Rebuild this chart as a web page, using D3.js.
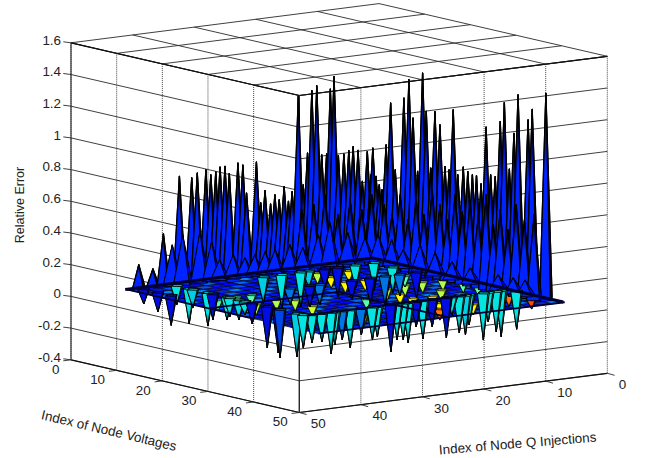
<!DOCTYPE html>
<html>

<head>
    <meta charset="utf-8"/>
    <title>Relative Error surface</title>
    <script src="https://d3js.org/d3.v7.min.js"></script>
    <style>
        body { margin: 0; background: #fff; }
        text { font-family: "Liberation Sans", Arial, sans-serif; fill: #222; }
    </style>
</head>

<body>
    <div id="chart"></div>

    <script>
        // Tick labels
        var vTicks = [0, 10, 20, 30, 40, 50];
        var qTicks = [0, 10, 20, 30, 40, 50];
        var zTicks = [-0.4, -0.2, 0, 0.2, 0.4, 0.6, 0.8, 1, 1.2, 1.4, 1.6];

        // Tall peaks along the edge V = 0
        var leftTallQ = [39, 36.7, 35, 32.4, 30.4, 29.5, 28.1, 27.3, 26.5, 25.8, 25, 24.3, 22.9, 22.1, 21.5, 19.9, 19.2, 18.5, 17.6, 16.9, 16.2, 15.4, 14.7, 14.1, 13.1, 12.3, 11.6, 10.9, 10.1, 9.3, 8.5, 7.9, 7.3, 6.6, 5.7, 4.9, 4.2, 3.4, 2.7, 1.9, 1.3];
        var leftTallZ = [0.145, 0.107, 0.32, 0.67, 0.65, 0.676, 0.69, 0.655, 0.668, 0.696, 0.696, 0.647, 0.707, 0.69, 0.51, 0.698, 0.437, 0.512, 0.422, 0.477, 0.442, 0.522, 0.424, 0.484, 1.079, 0.517, 0.714, 1.104, 1.131, 0.692, 0.693, 1.1, 1.176, 0.673, 0.679, 0.697, 0.719, 0.69, 0.491, 0.676, 0.526];

        // Tall peaks along the edge Q = 1
        var rightTallV = [0, 0.7, 1.4, 2, 2.9, 3.9, 4.9, 6.8, 7.9, 8.8, 9.8, 10.9, 11.7, 12.7, 13.6, 14.7, 15.8, 16.7, 17.6, 18.6, 19.8, 20.8, 21.8, 22.7, 23.7, 24.8, 25.8, 26.8, 27.9, 28.8, 29.9, 30.9, 31.8, 34, 34.9, 37.9];
        var rightTallZ = [0.693, 0.519, 0.471, 0.443, 0.733, 1.003, 0.589, 1.054, 1.177, 0.941, 0.611, 1.238, 1.002, 0.651, 1.014, 0.938, 0.682, 0.667, 1.052, 0.648, 0.705, 0.683, 0.669, 0.669, 0.625, 0.99, 0.696, 0.691, 1.046, 1.172, 0.759, 0.992, 1.24, 1.097, 1.17, 1.291];

        // Middle height peaks one row in
        var leftMidQ = [14.7, 12.8, 11, 8.9, 6.9, 5, 3.4];
        var leftMidZ = [0.392, 0.414, 0.468, 0.331, 0.416, 0.344, 0.43];
        var rightMidV = [5.2, 6.9, 8.7, 10.4, 12.2, 13.9, 15.7, 17.4, 19, 20.7, 22.3, 24, 25.8, 27.5, 29.1, 30.6, 32.3, 34.1, 35.9, 38];
        var rightMidZ = [0.38, 0.328, 0.466, 0.32, 0.458, 0.375, 0.544, 0.461, 0.377, 0.546, 0.449, 0.536, 0.453, 0.591, 0.412, 0.517, 0.402, 0.572, 0.488, 0.534];

        // Short peaks right behind the dark ridge
        var leftLowQ = [34.3, 32.6, 29.8, 27.9, 26.6, 24.4, 22.5, 20.9, 19.2, 17.6, 15.2, 13.1, 10.6, 8.7, 5.8, 3];
        var leftLowZ = [0.254, 0.309, 0.314, 0.242, 0.122, 0.143, 0.114, 0.125, 0.136, 0.141, 0.16, 0.131, 0.2, 0.267, 0.189, 0.144];
        var rightLowV = [2.5, 5.5, 8, 11.7, 15, 18.7, 22.7, 28.8, 32.1, 34.7];
        var rightLowZ = [0.168, 0.156, 0.11, 0.166, 0.138, 0.105, 0.093, 0.09, 0.093, 0.097];

        // Downward spikes, with their colour value
        var dropV = [1.1, 4.2, 7.1, 1.6, 4.3, 5.1, 8.4, 9.5, 12.6, 13.2, 15.2, 16.5, 18.1, 21.4, 23.8, 24.2, 27.9, 29.3,
                     30, 30, 30, 30, 30, 30, 30, 30, 30, 30, 30, 30, 30, 30, 30, 30, 30, 30, 30, 30, 30, 30, 30, 30, 30, 31.5,
                     3, 3, 3, 3, 3, 3, 3, 7.1, 3,
                     12, 12, 12, 12, 12, 12, 12, 12];
        var dropQ = [39, 39, 39, 34, 34, 34, 34, 34, 34, 34, 34, 34, 34, 34, 34, 34, 34, 34,
                     33.1, 31.5, 30, 29.4, 28.2, 26.9, 25.1, 23.3, 22.5, 20.3, 19.3, 18.3, 17.5, 16.2, 15.1, 13.6, 11.3, 10.4, 9.2, 8.2, 7.6, 5.3, 4.5, 3.2, 2.4, 1,
                     18, 14.9, 13.6, 11, 8.9, 6, 3, 3, 21,
                     13.3, 10.3, 7.9, 18.5, 23.3, 20.1, 2.8, 5.5];
        var dropZ = [-0.095, -0.124, -0.19, -0.12, -0.224, -0.117, -0.21, -0.164, -0.144, -0.12, -0.126, -0.086, -0.132, -0.262, -0.278, -0.306, -0.276, -0.21,
                     -0.177, -0.179, -0.262, -0.208, -0.183, -0.24, -0.167, -0.207, -0.192, -0.298, -0.227, -0.232, -0.255, -0.16, -0.242, -0.173, -0.254, -0.114, -0.233, -0.25, -0.19, -0.297, -0.187, -0.256, -0.29, -0.24,
                     -0.21, -0.22, -0.107, -0.12, -0.186, -0.144, -0.172, -0.163, -0.17,
                     -0.124, -0.157, -0.182, -0.129, -0.105, -0.134, -0.163, -0.137];
        var dropC = [0.14, 0.14, 0.14, 0.38, 0.38, 0.35, 0.38, 0.14, 0.38, 0.38, 0.36, 0.38, 0.14, 0.14, 0.14, 0.2, 0.35, 0.38,
                     0.38, 0.38, 0.38, 0.38, 0.25, 0.38, 0.25, 0.38, 0.38, 0.14, 0.38, 0.38, 0.38, 0.14, 0.38, 0.14, 0.14, 0.38, 0.38, 0.35, 0.38, 0.38, 0.38, 0.38, 0.38, 0.38,
                     0.38, 0.38, 0.35, 0.14, 0.14, 0.38, 0.38, 0.38, 0.35,
                     0.14, 0.14, 0.25, 0.25, 0.25, 0.14, 0.14, 0.25];

        // Small coloured pits in the flat part
        var pitV = [2.4, 4.8, 8.3, 6, 12.5, 12.8, 20, 24.1, 27.6, 29.9, 33.4, 34.4, 35.3, 19.6, 24.6, 18.5, 19, 13.4, 13.7, 13.5, 24.6, 13.2, 19, 18.1, 13.1, 13.6, 18.9, 21.7, 24.7, 24.9, 27.9, 31.7, 32.7, 35.9, 36.4, 33.2, 36.8];
        var pitQ = [14.1, 13.5, 13.9, 9.3, 14.7, 11.7, 13.5, 14.4, 14.9, 14.4, 18.6, 31.3, 28.8, 28.1, 29, 6.6, 9.8, 5.7, 9.2, 20.9, 20.2, 32.9, 34, 30, 30.4, 36.2, 3.6, 2.4, 2.2, 8.3, 11.9, 10.6, 14.3, 11.3, 17.1, 3.5, 2.5];
        var pitC = [0.63, 0.56, 0.63, 0.63, 0.63, 0.63, 0.56, 0.63, 0.63, 0.63, 0.76, 0.63, 0.63, 0.56, 0.58, 0.55, 0.55, 0.46, 0.46, 0.46, 0.46, 0.46, 0.55, 0.55, 0.46, 0.46, 0.55, 0.46, 0.46, 0.56, 0.63, 0.63, 0.63, 0.63, 0.76, 0.76, 0.8];

        // Colour values used in turn on the flat cells
        var flatC = [0.14, 0.2, 0.15, 0.14, 0.25, 0.16, 0.14, 0.22, 0.13];

        // Dark ridges across the surface
        var ridgeV = [[0, 0, 41.7], [18, 18, 42], [30, 30], [0, 28], [42, 42]];
        var ridgeQ = [[41.2, 1, 1], [41, 20, 20], [34, 8], [41, 41], [1, 41]];

        var width = 645, height = 458;

        var svg = d3.select("#chart")
                    .append("svg")
                    .attr("width", width)
                    .attr("height", height);
        var defs = svg.append("defs");

        // The box is drawn with one scale per screen direction of each axis
        var xFromV = d3.scaleLinear().domain([0, 50]).range([379, 607.3]);
        var yFromV = d3.scaleLinear().domain([0, 50]).range([0, 52.7]);
        var xFromQ = d3.scaleLinear().domain([0, 50]).range([0, -308]);
        var yFromQ = d3.scaleLinear().domain([0, 50]).range([320.6, 359.8]);
        var yFromZ = d3.scaleLinear().domain([-0.4, 1.6]).range([0, -317]);

        function project(v, q, z) {
            return [xFromV(v) + xFromQ(q), yFromV(v) + yFromQ(q) + yFromZ(z)];
        }

        var jet = d3.scaleLinear()
                    .domain([0, 0.125, 0.375, 0.625, 0.875, 1])
                    .range(["#00008f", "#0000ff", "#00ffff", "#ffff00", "#ff0000", "#800000"]);

        var outline = d3.line();

        function segment(group, a, b, color, lineWidth, dash) {
            group.append("line")
                 .attr("x1", a[0]).attr("y1", a[1])
                 .attr("x2", b[0]).attr("y2", b[1])
                 .attr("stroke", color)
                 .attr("stroke-width", lineWidth)
                 .attr("stroke-dasharray", dash || null);
        }

        // Walls and grid
        var grid = svg.append("g");
        var gridColor = "#2a2a2a";
        var zMin = zTicks[0], zMax = zTicks[zTicks.length - 1];

        zTicks.forEach(function(z) {
            segment(grid, project(0, 50, z), project(50, 50, z), gridColor, 0.9);
            segment(grid, project(50, 50, z), project(50, 0, z), gridColor, 0.9);
        });
        vTicks.forEach(function(v) {
            segment(grid, project(v, 50, zMin), project(v, 50, zMax), "#444", 1, "1 1");
            segment(grid, project(v, 50, zMax), project(v, 0, zMax), gridColor, 0.9);
        });
        qTicks.forEach(function(q) {
            segment(grid, project(50, q, zMin), project(50, q, zMax), "#444", 1, "1 1");
            segment(grid, project(50, q, zMax), project(0, q, zMax), gridColor, 0.9);
        });
        segment(grid, project(0, 50, zMax), project(50, 50, zMax), "#111", 1.2);
        segment(grid, project(50, 50, zMax), project(50, 0, zMax), "#111", 1.2);
        segment(grid, project(0, 50, zMin), project(50, 50, zMin), "#111", 1.2);
        segment(grid, project(50, 50, zMin), project(50, 0, zMin), "#111", 1.2);
        segment(grid, project(0, 50, zMin), project(0, 50, zMax), "#333", 1.2);
        segment(grid, project(50, 50, zMin), project(50, 50, zMax), "#222", 1.2);

        // Ticks and their labels
        var labels = svg.append("g").attr("font-size", 13.4);

        zTicks.forEach(function(z) {
            var p = project(0, 50, z);
            segment(labels, p, [p[0] - 7.7, p[1] - 1], gridColor, 0.9);
            labels.append("text")
                  .attr("x", p[0] - 10)
                  .attr("y", p[1] - 3)
                  .attr("dy", "0.36em")
                  .attr("text-anchor", "end")
                  .text(z);
        });
        vTicks.forEach(function(v) {
            var p = project(v, 50, zMin);
            segment(labels, p, [p[0] - 7.7, p[1] + 1], gridColor, 0.9);
            labels.append("text")
                  .attr("x", p[0] - 11.6)
                  .attr("y", p[1] + 9)
                  .attr("dy", "0.36em")
                  .attr("text-anchor", "end")
                  .text(v);
        });
        qTicks.forEach(function(q) {
            var p = project(50, q, zMin);
            segment(labels, p, [p[0] + 7.3, p[1] + 2], gridColor, 0.9);
            labels.append("text")
                  .attr("x", p[0] + 11.5)
                  .attr("y", p[1] + 11)
                  .attr("dy", "0.36em")
                  .text(q);
        });

        labels.append("text")
              .attr("transform", "translate(24,205) rotate(-90)")
              .attr("text-anchor", "middle")
              .attr("font-size", 12.5)
              .text("Relative Error");
        labels.append("text")
              .attr("transform", "translate(108,435) rotate(13.3)")
              .attr("text-anchor", "middle")
              .text("Index of Node Voltages");
        labels.append("text")
              .attr("transform", "translate(518,448) rotate(-4.7)")
              .attr("text-anchor", "middle")
              .text("Index of Node Q Injections");

        // Surface
        var surface = svg.append("g")
                         .attr("stroke", "#000")
                         .attr("stroke-linejoin", "round");

        // Shading along a face: up faces go black at the tip, down faces go dark teal
        var gradientCount = 0;
        var gradients = {};
        function shaded(c, tipDown, reach) {
            var key = [c, tipDown, reach].join("_");
            if (!gradients[key]) {
                gradientCount += 1;
                var id = "shade" + gradientCount;
                var g = defs.append("linearGradient")
                            .attr("id", id)
                            .attr("x1", 0).attr("y1", 0)
                            .attr("x2", 0).attr("y2", 1);
                var base = d3.rgb(jet(c)).darker(tipDown ? 0.3 : 0).formatHex();
                var stops = tipDown
                    ? [[0, base], [reach, base], [1, "#02303a"]]
                    : [[0, "#000"], [reach, base], [1, base]];
                stops.forEach(function(s) {
                    g.append("stop").attr("offset", s[0]).attr("stop-color", s[1]);
                });
                gradients[key] = "url(#" + id + ")";
            }
            return gradients[key];
        }

        function face(points, fill, lineWidth) {
            surface.append("path")
                   .attr("d", outline(points) + "Z")
                   .attr("fill", fill)
                   .attr("stroke-width", lineWidth);
        }

        // Flat cells, back to front
        var cellStep = 2;
        var flatCount = 0;
        d3.range(0, 42, cellStep).forEach(function(v) {
            d3.range(1, 41, cellStep).forEach(function(q) {
                face([project(v, q, 0),
                      project(v + cellStep, q, 0),
                      project(v + cellStep, q + cellStep, 0),
                      project(v, q + cellStep, 0)], jet(flatC[flatCount % flatC.length]), 0.6);
                flatCount += 1;
            });
        });

        // A spike is four triangles from its tip to a diamond on the plane
        function spike(v, q, z, half, fillBack, fillFront, lineWidth) {
            var tip = project(v, q, z);
            var a = project(v - half, q, 0);
            var b = project(v, q + half, 0);
            var e = project(v + half, q, 0);
            var d = project(v, q - half, 0);
            face([tip, a, d], fillBack, lineWidth);
            face([tip, a, b], fillBack, lineWidth);
            face([tip, e, d], fillBack, lineWidth);
            face([tip, b, e], fillFront, lineWidth);
        }

        pitV.forEach(function(v, i) {
            spike(v, pitQ[i], -0.07, 0.85, jet(pitC[i]), jet(pitC[i]), 0.7);
        });

        var upC = 0.125;
        var upFront = 0.16;
        function peak(v, q, z, half, reach, lineWidth) {
            spike(v, q, z, half, shaded(upC, false, reach), shaded(upFront, false, reach), lineWidth);
        }
        leftTallQ.forEach(function(q, i) { peak(0, q, leftTallZ[i], 1, 0.35, 1.3); });
        rightTallV.forEach(function(v, i) { peak(v, 1, rightTallZ[i], 1, 0.35, 1.3); });
        leftMidQ.forEach(function(q, i) { peak(3, q, leftMidZ[i], 1.2, 0.4, 1.1); });
        rightMidV.forEach(function(v, i) { peak(v, 3, rightMidZ[i], 1.2, 0.4, 1.1); });
        leftLowQ.forEach(function(q, i) { peak(1, q, leftLowZ[i], 1.5, 0.08, 0.9); });
        rightLowV.forEach(function(v, i) { peak(v, 2, rightLowZ[i], 1.5, 0.08, 0.9); });

        d3.range(dropV.length)
          .sort(function(a, b) { return (dropV[a] + dropQ[a]) - (dropV[b] + dropQ[b]); })
          .forEach(function(i) {
              spike(dropV[i], dropQ[i], dropZ[i], 0.95,
                    shaded(dropC[i], true, 0.45), shaded(dropC[i], true, 0.6), 0.9);
          });

        // Ridges on top of the spikes
        ridgeV.forEach(function(vs, r) {
            var points = vs.map(function(v, i) { return project(v, ridgeQ[r][i], 0); });
            surface.append("path")
                   .attr("d", outline(points))
                   .attr("fill", "none")
                   .attr("stroke", "#00002e")
                   .attr("stroke-width", r === 0 ? 3 : 1.8);
        });
    </script>
</body>

</html>
